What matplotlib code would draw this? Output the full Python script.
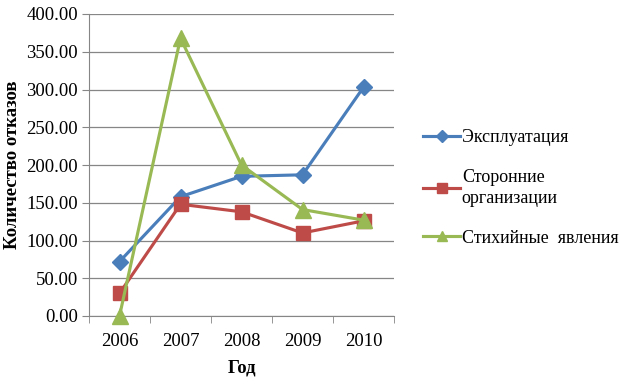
import matplotlib
matplotlib.use("Agg")
import matplotlib.pyplot as plt
from matplotlib.lines import Line2D

years = ["2006", "2007", "2008", "2009", "2010"]
exploitation = [72, 158, 185, 187, 303]
third_party = [30, 148, 138, 110, 126]
natural = [0, 368, 200, 141, 127]
series_names = ["Эксплуатация", "Сторонние\nорганизации", "Стихийные  явления"]
yticks = [0, 50, 100, 150, 200, 250, 300, 350, 400]

plt.rcParams['font.family'] = ['Liberation Serif', 'DejaVu Serif']

fig = plt.figure(figsize=(6.24, 3.79), dpi=100)
ax = fig.add_axes([89/624, 1-316/379, (394-89)/624, (316-14)/379])

x = list(range(len(years)))
c_blue, c_red, c_green = "#4A7EBB", "#BE4B48", "#98B954"
ax.plot(x, exploitation, color=c_blue, lw=2.25, marker="D", ms=8, zorder=3, clip_on=False)
ax.plot(x, third_party, color=c_red, lw=2.25, marker="s", ms=10, zorder=3, clip_on=False)
ax.plot(x, natural, color=c_green, lw=2.25, marker="^", ms=11, zorder=4, clip_on=False)

ax.set_xlim(-0.5, 4.5)
ax.set_ylim(0, 400)
ax.set_yticks(yticks)
ax.set_yticklabels([f"{v:.2f}" for v in yticks], fontsize=13.5)
ax.set_xticks(x)
ax.set_xticklabels(years, fontsize=13.5)
ax.set_xticks([i - 0.5 for i in range(6)], minor=True)
ax.tick_params(axis='x', which='major', length=0, pad=12)
ax.tick_params(axis='x', which='minor', length=5, color="#868686")
ax.tick_params(axis='y', length=5, color="#868686", pad=3)
ax.grid(axis='y', color="#868686", lw=0.9)
ax.set_axisbelow(True)
for s in ["top", "right"]:
    ax.spines[s].set_visible(False)
for s in ["left", "bottom"]:
    ax.spines[s].set_color("#868686")

ax.set_ylabel("Количество отказов", fontsize=13.5, fontweight="bold", labelpad=4)
ax.set_xlabel("Год", fontsize=13.5, fontweight="bold", labelpad=7)

handles = [
    Line2D([], [], color=c_blue, lw=2.25, marker="D", ms=6),
    Line2D([], [], color=c_red, lw=2.25, marker="s", ms=7),
    Line2D([], [], color=c_green, lw=2.25, marker="^", ms=7),
]
leg = fig.legend(handles, series_names, loc="upper left",
                 bbox_to_anchor=(423/624, 1-129/379),
                 frameon=False, fontsize=13, handlelength=2.05, handletextpad=0.1,
                 labelspacing=1.25, borderpad=0, borderaxespad=0)
for t in leg.get_texts():
    t.set_linespacing(1.35)

fig.savefig("out.png", dpi=100)
